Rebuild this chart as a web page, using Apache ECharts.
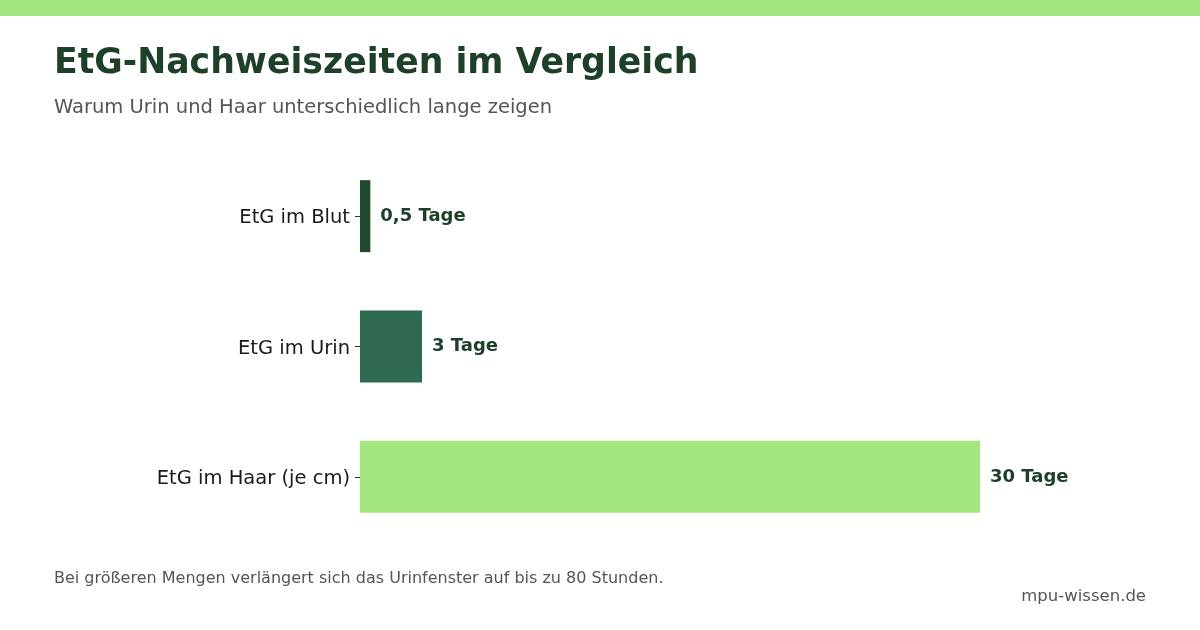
<!DOCTYPE html>
<html><head><meta charset="utf-8">
<script src="https://cdn.jsdelivr.net/npm/echarts@6/dist/echarts.min.js"></script>
<style>html,body{margin:0;padding:0;background:#fff}#c{width:1200px;height:630px}</style>
</head><body><div id="c"></div>
<script>
const categories = ['EtG im Blut', 'EtG im Urin', 'EtG im Haar (je cm)'];
const values = [0.5, 3, 30];
const valueLabels = ['0,5 Tage', '3 Tage', '30 Tage'];
const barColors = ['#1f4a2c', '#2d6a4f', '#a3e67f'];
const titleText = 'EtG-Nachweiszeiten im Vergleich';
const subtitleText = 'Warum Urin und Haar unterschiedlich lange zeigen';
const noteText = 'Bei größeren Mengen verlängert sich das Urinfenster auf bis zu 80 Stunden.';
const sourceText = 'mpu-wissen.de';

const font = 'DejaVu Sans';
const chart = echarts.init(document.getElementById('c'), null, {renderer: 'canvas'});
chart.setOption({
  backgroundColor: '#fff',
  animation: false,
  textStyle: {fontFamily: font},
  title: {
    text: titleText,
    subtext: subtitleText,
    left: 54, top: 46, padding: 0,
    itemGap: 17,
    textStyle: {fontFamily: font, fontSize: 34.7, fontWeight: 'bold', color: '#1e4029'},
    subtextStyle: {fontFamily: font, fontSize: 19.5, color: '#555555'}
  },
  graphic: [
    {type: 'rect', left: 0, top: 0, shape: {width: 1200, height: 16}, style: {fill: '#a3e67f'}},
    {type: 'text', left: 54, top: 571, style: {text: noteText, font: '16px "DejaVu Sans"', fill: '#555555'}},
    {type: 'text', right: 54, top: 588, style: {text: sourceText, font: '16.5px "DejaVu Sans"', fill: '#555555'}}
  ],
  grid: {left: 360, width: 620, top: 151, height: 391, containLabel: false},
  xAxis: {type: 'value', min: 0, max: 30, show: false},
  yAxis: {
    type: 'category', data: categories, inverse: true,
    axisLine: {show: false},
    axisTick: {show: true, length: 5, alignWithLabel: true, lineStyle: {color: '#333'}},
    axisLabel: {
      margin: 10,
      formatter: v => '{a|' + v + '}',
      rich: {a: {fontFamily: font, fontSize: 19.5, color: '#1a1a1a', padding: [4, 0, 0, 0]}}
    }
  },
  series: [{
    type: 'bar',
    barWidth: 72,
    data: values.map((v, i) => ({value: v, itemStyle: {color: barColors[i]}})),
    label: {
      show: true, position: 'right', distance: 10,
      formatter: p => valueLabels[p.dataIndex],
      fontFamily: font, fontSize: 18, fontWeight: 'bold', color: '#1e4029'
    }
  }]
});
</script></body></html>
